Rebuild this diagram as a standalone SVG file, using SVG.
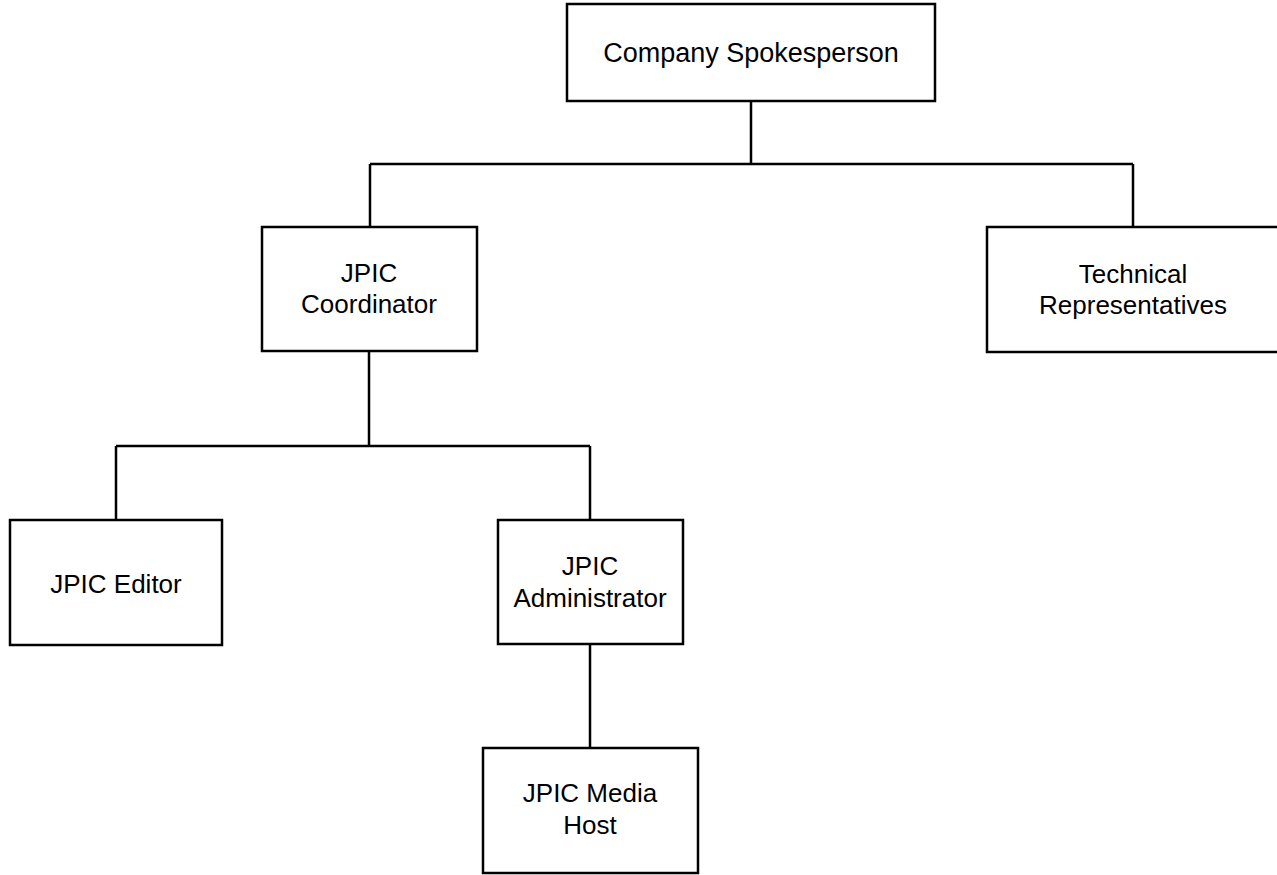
<svg xmlns="http://www.w3.org/2000/svg" width="1277" height="875" viewBox="0 0 1277 875">
  <style>
    .box { fill: #ffffff; stroke: #000000; stroke-width: 2.5; }
    .lbl { font-family: "Liberation Sans", Arial, sans-serif; font-size: 26px; fill: #000000; text-anchor: middle; }
    .conn { fill: none; stroke: #000000; stroke-width: 2.5; }
  </style>
  <rect x="0" y="0" width="1277" height="875" fill="#ffffff"/>
  <g id="connectors">
    <path class="conn" d="M751,101 V164 M370,164 H1133 M370,164 V227 M1133,164 V227"/>
    <path class="conn" d="M369,351 V446 M116,446 H590 M116,446 V520 M590,446 V520"/>
    <path class="conn" d="M590,644 V748"/>
  </g>
  <g id="company-spokesperson">
    <rect class="box" x="567" y="4" width="368" height="97"/>
    <text class="lbl" x="751" y="62" style="font-size:27px">Company Spokesperson</text>
  </g>
  <g id="jpic-coordinator">
    <rect class="box" x="262" y="227" width="215" height="124"/>
    <text class="lbl" x="369" y="282">JPIC</text>
    <text class="lbl" x="369" y="313">Coordinator</text>
  </g>
  <g id="technical-representatives">
    <rect class="box" x="987" y="227" width="292" height="125"/>
    <text class="lbl" x="1133" y="283">Technical</text>
    <text class="lbl" x="1133" y="314">Representatives</text>
  </g>
  <g id="jpic-editor">
    <rect class="box" x="10" y="520" width="212" height="125"/>
    <text class="lbl" x="116" y="593">JPIC Editor</text>
  </g>
  <g id="jpic-administrator">
    <rect class="box" x="498" y="520" width="185" height="124"/>
    <text class="lbl" x="590" y="575">JPIC</text>
    <text class="lbl" x="590" y="607">Administrator</text>
  </g>
  <g id="jpic-media-host">
    <rect class="box" x="483" y="748" width="215" height="125"/>
    <text class="lbl" x="590" y="802">JPIC Media</text>
    <text class="lbl" x="590" y="834">Host</text>
  </g>
</svg>
